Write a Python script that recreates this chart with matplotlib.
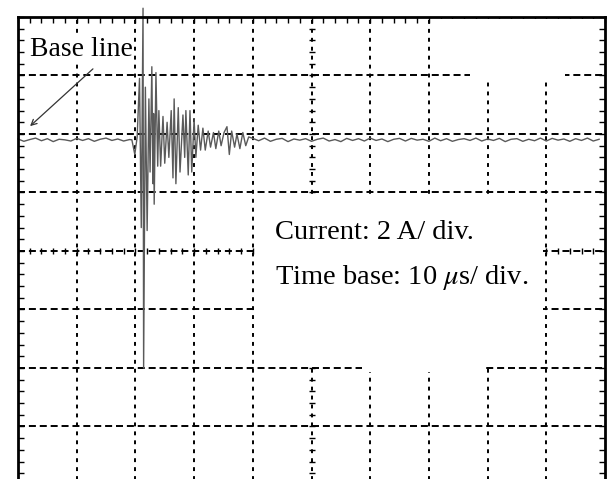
import matplotlib
matplotlib.use('Agg')
import matplotlib.pyplot as plt
from matplotlib.patches import Rectangle

# scope screen: 10 div x 8 div, 10 us/div, 2 A/div
t_div = 10.0
i_div = 2.0
base_level = 3.8   # where the base line sits on the screen (A)

# base line noise before the burst (us, A above base line)
pre_t = [0, 1, 2, 3, 4, 5, 6, 7, 8, 9, 10, 11, 12, 13, 14, 15, 16, 17, 18, 19]
pre_i = [0.03, -0.05, 0.01, 0.06, -0.03, 0.04, -0.06, 0.02, 0.0, -0.04,
         0.05, -0.02, 0.04, -0.05, 0.02, 0.06, -0.02, 0.03, -0.04, 0.01]

# the burst, read peak by peak
burst_t = [19.4, 19.9, 20.3, 20.7, 21.0, 21.3, 21.4, 21.7, 22.0, 22.3,
           22.5, 22.8, 23.0, 23.1, 23.2, 23.5, 23.8, 24.0, 24.3, 24.7,
           25.0, 25.4, 25.7, 26.1, 26.4, 26.6, 26.9, 27.3, 27.6, 28.1,
           28.4, 28.6, 29.0, 29.3, 29.6, 30.0, 30.3, 30.7, 31.1, 31.5,
           31.9, 32.4, 32.8, 33.3, 33.7, 34.2, 34.6, 35.1, 35.6, 36.0,
           36.4, 36.9, 37.3, 37.8, 38.3, 38.8, 39.3]
burst_i = [0.0, -0.5, 0.1, 2.1, -3.0, 4.5, -7.8, 1.8, -3.1, 1.4,
           -1.1, 2.5, -1.5, 0.9, -2.2, 2.3, -0.9, 1.0, -0.9, 0.8,
           -0.8, 0.6, -0.6, 1.0, -1.3, 1.4, -1.5, 1.1, -1.1, 0.85,
           -0.6, 1.0, -1.2, 1.0, -1.1, 0.7, -0.6, 0.5, -0.35, 0.4,
           -0.35, 0.3, -0.25, 0.25, -0.3, 0.3, -0.2, 0.25, 0.45, -0.5,
           0.3, -0.25, 0.2, -0.3, 0.25, -0.2, 0.1]

# base line noise after the burst
post_i = [0.05, -0.03, 0.06, -0.05, 0.02, 0.05, -0.06, 0.03, -0.01, 0.04,
          -0.05, 0.02, 0.06, -0.04, 0.01, -0.06, 0.05, -0.02, 0.04, -0.04,
          0.06, -0.02, 0.03, -0.06, 0.02, 0.05, -0.04, 0.05, -0.01, 0.02,
          -0.05, 0.06, -0.03, 0.04, -0.05, 0.01, 0.04, -0.02, 0.06, -0.04,
          0.03, -0.02, 0.05, -0.06, 0.02, 0.04, -0.05, 0.02, -0.03, 0.06,
          -0.04, 0.05, -0.01, 0.03, -0.05, 0.04, -0.02, 0.06, -0.04, 0.02]
post_t = [40 + k for k in range(len(post_i))]

label_base = 'Base line'
label_cur = 'Current: 2 A/ div.'
label_time = 'Time base: 10 $\\mu$s/ div.'

t_all = pre_t + burst_t + post_t
i_all = [v + base_level for v in pre_i + burst_i + post_i]

plt.rcParams['font.family'] = ['Liberation Serif', 'DejaVu Serif']
plt.rcParams['mathtext.fontset'] = 'stix'

fig = plt.figure(figsize=(6.09, 4.79), dpi=100)
ax = fig.add_axes([18/609, 1 - 485/479, 587/609, 468/479])
ax.set_xlim(0, 10*t_div)
ax.set_ylim(-4*i_div, 4*i_div)

# dashed graticule
for k in range(1, 10):
    ax.axvline(k*t_div, color='black', lw=1.4, dashes=(2.0, 2.6), zorder=1)
for k in range(-3, 4):
    ax.axhline(k*i_div, color='black', lw=1.4, dashes=(3.6, 2.0), zorder=1)

# minor marks on the centre lines
ax.plot([k*t_div/5 for k in range(51)], [0]*51, ls='none', marker='|',
        ms=5, mew=1.0, color='black', zorder=1.5)
ax.plot([5*t_div]*41, [-8 + k*i_div/5 for k in range(41)], ls='none',
        marker='_', ms=5, mew=1.0, color='black', zorder=1.5)

ax.plot(t_all, i_all, color='#5a5a5a', lw=1.0, zorder=2, clip_on=False)

# blank patches of the scan
def px_rect(x0, y0, x1, y1):
    tx0 = (x0 - 18)/58.7*t_div
    tx1 = (x1 - 18)/58.7*t_div
    iy0 = (251 - y1)/58.5*i_div
    iy1 = (251 - y0)/58.5*i_div
    ax.add_patch(Rectangle((tx0, iy0), tx1 - tx0, iy1 - iy0, facecolor='white',
                           edgecolor='none', zorder=2.6))

px_rect(256, 196, 543, 366)
px_rect(362, 360, 486, 372)
px_rect(470, 19, 565, 82)
px_rect(432, 19, 601, 24)

ax.set_xticks([k*t_div/5 for k in range(51)])
ax.set_yticks([-8 + k*i_div/5 for k in range(41)])
ax.tick_params(direction='in', length=4, width=1.0, top=True, bottom=False,
               left=True, right=True, labelleft=False, labelbottom=False)
for s in ax.spines.values():
    s.set_linewidth(2.0)

ax.text(30/609, 1 - 56/479, label_base, transform=fig.transFigure, fontsize=20,
        ha='left', va='baseline', zorder=3,
        bbox=dict(facecolor='white', edgecolor='none', pad=1))
ax.annotate('', xy=(28/609, 1 - 128/479), xytext=(95/609, 1 - 67/479),
            xycoords='figure fraction', textcoords='figure fraction',
            arrowprops=dict(arrowstyle='->', color='#333333', lw=0.9))
ax.text(275/609, 1 - 239/479, label_cur, transform=fig.transFigure,
        fontsize=20.5, ha='left', va='baseline', zorder=3)
ax.text(275/609, 1 - 284/479, label_time, transform=fig.transFigure,
        fontsize=20.5, ha='left', va='baseline', zorder=3)

fig.savefig('out.png', dpi=100)
